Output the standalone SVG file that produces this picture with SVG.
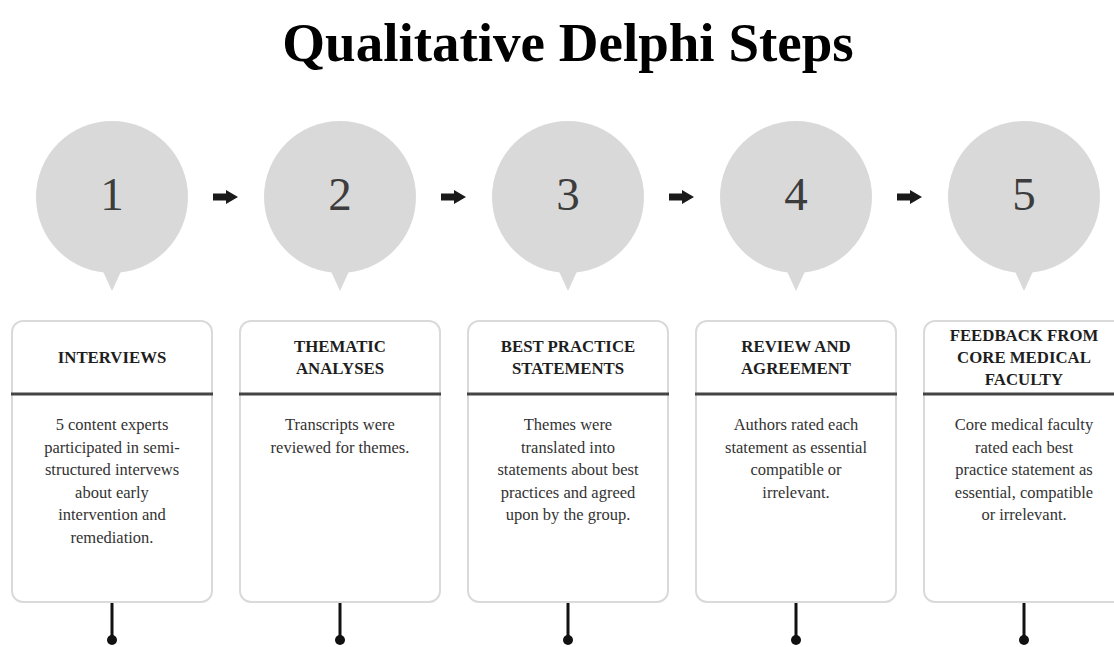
<svg xmlns="http://www.w3.org/2000/svg" width="1114" height="647" viewBox="0 0 1114 647">
  <defs>
    <style>
      .title { font-family: "Liberation Serif", "Times New Roman", serif; font-weight: bold; font-size: 55px; fill: #000; }
      .num { font-family: "Liberation Serif", "Times New Roman", serif; font-size: 47px; fill: #3c3c3c; text-anchor: middle; }
      .bubble { fill: #d9d9d9; }
      .card { fill: #fff; stroke: #dadada; stroke-width: 2; }
      .rule { stroke: #444; stroke-width: 3; }
      .head { font-family: "Liberation Serif", "Times New Roman", serif; font-weight: bold; font-size: 16.8px; fill: #1e1e1e; text-anchor: middle; }
      .body { font-family: "Liberation Serif", "Times New Roman", serif; font-size: 16.5px; fill: #333; text-anchor: middle; }
      .stem { stroke: #111; stroke-width: 3; }
      .dot { fill: #111; }
      .arrow { fill: #1a1a1a; }
    </style>
    <!-- speech-bubble marker: circle with a small pointer underneath -->
    <g id="bubble">
      <circle class="bubble" cx="0" cy="0" r="76"/>
      <path class="bubble" d="M-11,70 L0,94 L11,70 Z"/>
    </g>
    <path id="blockArrow" class="arrow" d="M0,-3.5 H13 V-7 L25,0 L13,7 V3.5 H0 Z"/>
  </defs>

  <rect width="1114" height="647" fill="#fff"/>

  <text class="title" x="568" y="61" text-anchor="middle">Qualitative Delphi Steps</text>

  <!-- arrows between the step bubbles and the stems under each card -->
  <g id="connectors">
    <use href="#blockArrow" x="213" y="197"/>
    <use href="#blockArrow" x="441" y="197"/>
    <use href="#blockArrow" x="669" y="197"/>
    <use href="#blockArrow" x="897" y="197"/>

    <line class="stem" x1="112" y1="602" x2="112" y2="638"/>
    <circle class="dot" cx="112" cy="640" r="5"/>
    <line class="stem" x1="340" y1="602" x2="340" y2="638"/>
    <circle class="dot" cx="340" cy="640" r="5"/>
    <line class="stem" x1="568" y1="602" x2="568" y2="638"/>
    <circle class="dot" cx="568" cy="640" r="5"/>
    <line class="stem" x1="796" y1="602" x2="796" y2="638"/>
    <circle class="dot" cx="796" cy="640" r="5"/>
    <line class="stem" x1="1024" y1="602" x2="1024" y2="638"/>
    <circle class="dot" cx="1024" cy="640" r="5"/>
  </g>

  <!-- step 1 -->
  <g id="step1">
    <use href="#bubble" x="112" y="197"/>
    <text class="num" x="112" y="210">1</text>
    <rect class="card" x="12" y="321" width="200" height="281" rx="11"/>
    <line class="rule" x1="11" y1="394" x2="213" y2="394"/>
    <text class="head" x="112" y="363">INTERVIEWS</text>
    <text class="body" x="112" y="430">5 content experts</text>
    <text class="body" x="112" y="452.5">participated in semi-</text>
    <text class="body" x="112" y="475">structured intervews</text>
    <text class="body" x="112" y="497.5">about early</text>
    <text class="body" x="112" y="520">intervention and</text>
    <text class="body" x="112" y="542.5">remediation.</text>
  </g>

  <!-- step 2 -->
  <g id="step2">
    <use href="#bubble" x="340" y="197"/>
    <text class="num" x="340" y="210">2</text>
    <rect class="card" x="240" y="321" width="200" height="281" rx="11"/>
    <line class="rule" x1="239" y1="394" x2="441" y2="394"/>
    <text class="head" x="340" y="352">THEMATIC</text>
    <text class="head" x="340" y="374">ANALYSES</text>
    <text class="body" x="340" y="430">Transcripts were</text>
    <text class="body" x="340" y="452.5">reviewed for themes.</text>
  </g>

  <!-- step 3 -->
  <g id="step3">
    <use href="#bubble" x="568" y="197"/>
    <text class="num" x="568" y="210">3</text>
    <rect class="card" x="468" y="321" width="200" height="281" rx="11"/>
    <line class="rule" x1="467" y1="394" x2="669" y2="394"/>
    <text class="head" x="568" y="352">BEST PRACTICE</text>
    <text class="head" x="568" y="374">STATEMENTS</text>
    <text class="body" x="568" y="430">Themes were</text>
    <text class="body" x="568" y="452.5">translated into</text>
    <text class="body" x="568" y="475">statements about best</text>
    <text class="body" x="568" y="497.5">practices and agreed</text>
    <text class="body" x="568" y="520">upon by the group.</text>
  </g>

  <!-- step 4 -->
  <g id="step4">
    <use href="#bubble" x="796" y="197"/>
    <text class="num" x="796" y="210">4</text>
    <rect class="card" x="696" y="321" width="200" height="281" rx="11"/>
    <line class="rule" x1="695" y1="394" x2="897" y2="394"/>
    <text class="head" x="796" y="352">REVIEW AND</text>
    <text class="head" x="796" y="374">AGREEMENT</text>
    <text class="body" x="796" y="430">Authors rated each</text>
    <text class="body" x="796" y="452.5">statement as essential</text>
    <text class="body" x="796" y="475">compatible or</text>
    <text class="body" x="796" y="497.5">irrelevant.</text>
  </g>

  <!-- step 5 (runs past the right edge) -->
  <g id="step5">
    <use href="#bubble" x="1024" y="197"/>
    <text class="num" x="1024" y="210">5</text>
    <rect class="card" x="924" y="321" width="200" height="281" rx="11"/>
    <line class="rule" x1="923" y1="394" x2="1125" y2="394"/>
    <text class="head" x="1024" y="341">FEEDBACK FROM</text>
    <text class="head" x="1024" y="363">CORE MEDICAL</text>
    <text class="head" x="1024" y="385">FACULTY</text>
    <text class="body" x="1024" y="430">Core medical faculty</text>
    <text class="body" x="1024" y="452.5">rated each best</text>
    <text class="body" x="1024" y="475">practice statement as</text>
    <text class="body" x="1024" y="497.5">essential, compatible</text>
    <text class="body" x="1024" y="520">or irrelevant.</text>
  </g>
</svg>
